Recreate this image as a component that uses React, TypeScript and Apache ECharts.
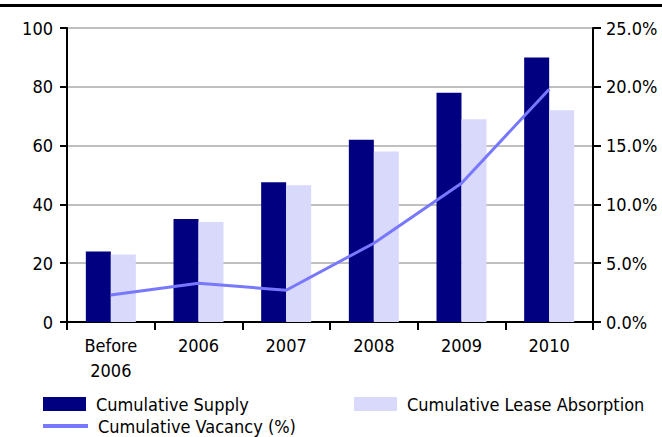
import React, { useEffect, useRef } from "react";
import * as echarts from "echarts";

const categories = ["Before\n2006", "2006", "2007", "2008", "2009", "2010"];
const cumulativeSupply = [24, 35, 47.5, 62, 78, 90];
const cumulativeAbsorption = [23, 34, 46.5, 58, 69, 72];
const cumulativeVacancy = [2.3, 3.3, 2.7, 6.7, 11.8, 19.8];
const leftTicks = { min: 0, max: 100, interval: 20 };
const rightTicks = { min: 0, max: 25, interval: 5 };

const FONT = '"Liberation Sans Narrow", "DejaVu Sans Condensed", sans-serif';

export default function App() {
  const ref = useRef<HTMLDivElement>(null);

  useEffect(() => {
    if (!ref.current) return;
    const chart = echarts.init(ref.current, undefined, { renderer: "svg" });
    const text = { fontFamily: FONT, fontSize: 18, color: "#000" };
    const legendText = { ...text, lineHeight: 20, padding: [0, 0, 0, 5] };
    chart.setOption({
      animation: false,
      backgroundColor: "#fff",
      graphic: [
        {
          type: "rect",
          left: 0,
          top: 4,
          shape: { width: 662, height: 3 },
          style: { fill: "#000" },
        },
      ],
      grid: { left: 67, right: 69, top: 28, bottom: 115 },
      legend: [
        {
          data: ["Cumulative Supply"],
          left: 43,
          top: 394,
          padding: 0,
          itemWidth: 43,
          itemHeight: 14,
          icon: "rect",
          textStyle: legendText,
        },
        {
          data: ["Cumulative Lease Absorption"],
          left: 354,
          top: 394,
          padding: 0,
          itemWidth: 43,
          itemHeight: 14,
          icon: "rect",
          textStyle: legendText,
        },
        {
          data: ["Cumulative Vacancy (%)"],
          left: 43,
          top: 416,
          padding: 0,
          itemWidth: 45,
          itemHeight: 4,
          icon: "rect",
          textStyle: legendText,
        },
      ],
      xAxis: {
        type: "category",
        data: categories,
        axisLine: { lineStyle: { color: "#000", width: 2 } },
        axisTick: { show: true, length: 8, lineStyle: { color: "#000", width: 2 } },
        axisLabel: { ...text, margin: 11, lineHeight: 25 },
      },
      yAxis: [
        {
          type: "value",
          ...leftTicks,
          axisLine: { show: true, lineStyle: { color: "#000", width: 2 } },
          axisTick: { show: true, length: 7, lineStyle: { color: "#000", width: 2 } },
          axisLabel: { ...text, margin: 14 },
          splitLine: { lineStyle: { color: "#c0c0c0", width: 2 } },
        },
        {
          type: "value",
          ...rightTicks,
          position: "right",
          axisLine: { show: true, lineStyle: { color: "#000", width: 2 } },
          axisTick: { show: true, length: 8, lineStyle: { color: "#000", width: 2 } },
          axisLabel: { ...text, margin: 13, formatter: (v: number) => v.toFixed(1) + "%" },
          splitLine: { show: false },
        },
      ],
      series: [
        {
          name: "Cumulative Supply",
          type: "bar",
          data: cumulativeSupply,
          barWidth: 25,
          barGap: "0%",
          itemStyle: { color: "#000080" },
        },
        {
          name: "Cumulative Lease Absorption",
          type: "bar",
          data: cumulativeAbsorption,
          barWidth: 25,
          barGap: "0%",
          itemStyle: { color: "#d9d9fc" },
        },
        {
          name: "Cumulative Vacancy (%)",
          type: "line",
          yAxisIndex: 1,
          data: cumulativeVacancy,
          symbol: "none",
          lineStyle: { color: "#7878ff", width: 3 },
          itemStyle: { color: "#7878ff" },
        },
      ],
    });
    return () => chart.dispose();
  }, []);

  return (
    <div
      ref={ref}
      style={{ position: "fixed", left: 0, top: 0, width: 662, height: 437 }}
    />
  );
}
